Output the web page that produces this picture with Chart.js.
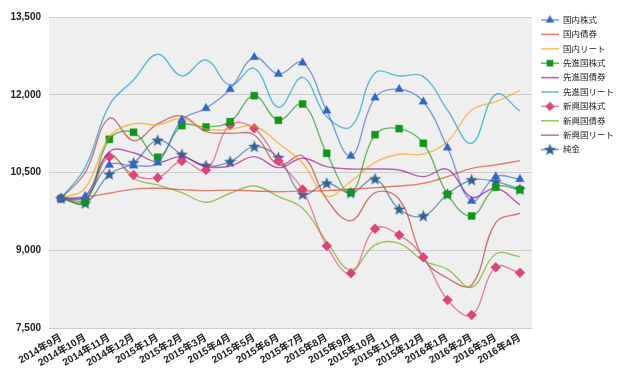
<!DOCTYPE html>
<html>
<head>
<meta charset="utf-8">
<script src="https://cdn.jsdelivr.net/npm/chart.js@4"></script>
<style>
html,body{margin:0;padding:0;background:#fff;}
#wrap{width:640px;height:376px;position:relative;}
</style>
</head>
<body>
<div id="wrap"><canvas id="c" width="640" height="376"></canvas></div>
<script>
const labels = ["2014年9月","2014年10月","2014年11月","2014年12月","2015年1月","2015年2月","2015年3月","2015年4月","2015年5月","2015年6月","2015年7月","2015年8月","2015年9月","2015年10月","2015年11月","2015年12月","2016年1月","2016年2月","2016年3月","2016年4月"];
const seriesNames = ["国内株式","国内債券","国内リート","先進国株式","先進国債券","先進国リート","新興国株式","新興国債券","新興国リート","純金"];
const domesticStocks  = [10000,10040,10645,10632,10690,11513,11738,12105,12722,12400,12619,11693,10819,11944,12105,11867,10979,9951,10420,10369];
const domesticBonds   = [10000,10030,10100,10180,10196,10170,10150,10160,10144,10130,10140,10150,10180,10208,10240,10290,10420,10580,10645,10728];
const domesticREIT    = [10000,10200,11190,11440,11420,11540,11340,11333,11397,11064,10680,10047,10330,10697,10851,10857,11096,11706,11867,12078];
const developedStocks = [10000,9937,11141,11276,10794,11404,11378,11481,11982,11507,11822,10870,10118,11230,11346,11064,10080,9661,10215,10169];
const developedBonds  = [10000,10050,10902,10880,10700,10806,10613,10626,10806,10594,10774,10613,10568,10568,10549,10420,10562,10022,10196,9874];
const developedREIT   = [10000,10600,11800,12285,12780,12362,12671,12188,12510,11758,12335,11577,11384,12420,12362,12349,11706,11064,12008,11687];
const emergingStocks  = [10000,9990,10806,10452,10400,10722,10549,11417,11352,10722,10170,9083,8556,9417,9295,8865,8041,7752,8672,8568];
const emergingBonds   = [10000,9960,10838,10388,10260,10112,9926,10099,10240,10035,9811,9166,8620,9102,9134,8800,8633,8286,8928,8877];
const emergingREIT    = [10000,10500,11546,11115,11436,11590,11288,11256,11224,10645,10819,9980,9571,10112,9984,8846,8460,8331,9533,9714];
const gold            = [10000,9906,10466,10685,11120,10845,10632,10709,11000,10786,10080,10292,10105,10375,9790,9661,10080,10356,10323,10176];
const yTicks = [7500, 9000, 10500, 12000, 13500];

const colors = ["#3366cc","#dc3912","#ff9900","#109618","#990099","#0099c6","#dd4477","#66aa00","#b82e2e","#316395"];
const allData = [domesticStocks,domesticBonds,domesticREIT,developedStocks,developedBonds,developedREIT,emergingStocks,emergingBonds,emergingREIT,gold];

function hexA(h,a){const r=parseInt(h.slice(1,3),16),g=parseInt(h.slice(3,5),16),b=parseInt(h.slice(5,7),16);return `rgba(${r},${g},${b},${a})`;}

function makeStar(color){
  const c=document.createElement('canvas');c.width=13;c.height=13;
  const x=c.getContext('2d');
  x.beginPath();
  for(let i=0;i<10;i++){
    const r=i%2===0?6:2.6;
    const a=-Math.PI/2+i*Math.PI/5;
    const px=6.5+r*Math.cos(a), py=6.8+r*Math.sin(a);
    if(i===0)x.moveTo(px,py);else x.lineTo(px,py);
  }
  x.closePath();x.fillStyle=color;x.fill();
  x.strokeStyle=hexA(color,0.3);x.lineWidth=1;x.stroke();
  return c;
}
const starImg = makeStar("#316395");

const pointStyles = ["triangle",false,false,"rect",false,false,"rectRot",false,false,starImg];
const pointRadii  = [5,0,0,5,0,0,5,0,0,6];

const FONT = "'Liberation Sans','Noto Sans CJK JP',sans-serif";

const datasets = seriesNames.map((n,i)=>({
  label:n,
  data:allData[i],
  borderColor:hexA(colors[i],0.62),
  borderWidth:1.4,
  backgroundColor:colors[i],
  pointStyle:pointStyles[i]||'circle',
  pointRadius:pointRadii[i],
  pointHoverRadius:pointRadii[i],
  pointBackgroundColor:colors[i],
  pointBorderColor:hexA(colors[i],0.35),
  pointBorderWidth:1,
  tension:0.4,
  fill:false
}));

const bgPlugin = {
  id:'plotBg',
  beforeDraw(chart){
    const {ctx,chartArea:a}=chart;
    ctx.save();ctx.fillStyle='#efefef';ctx.fillRect(a.left,a.top,a.right-a.left,a.bottom-a.top);ctx.restore();
  }
};

const legendPlugin = {
  id:'sideLegend',
  afterDraw(chart){
    const ctx=chart.ctx;
    ctx.save();
    chart.data.datasets.forEach((ds,i)=>{
      const y=20+i*14.4;
      ctx.strokeStyle=ds.borderColor;ctx.lineWidth=1.6;
      ctx.beginPath();ctx.moveTo(541,y);ctx.lineTo(559,y);ctx.stroke();
      if(ds.pointRadius>0){
        ctx.fillStyle=ds.pointBackgroundColor;ctx.strokeStyle=ds.pointBorderColor;
        Chart.helpers.drawPoint(ctx,{pointStyle:ds.pointStyle,radius:ds.pointRadius*0.85,rotation:0,borderWidth:1},550,y);
      }
      ctx.fillStyle='#222';ctx.font="8.5px "+FONT;ctx.textBaseline='middle';ctx.textAlign='left';
      ctx.fillText(ds.label,563,y+0.5);
    });
    ctx.restore();
  }
};

new Chart(document.getElementById('c'),{
  type:'line',
  data:{labels:labels,datasets:datasets},
  options:{
    responsive:false,
    animation:false,
    devicePixelRatio:1,
    layout:{padding:{top:17,right:108,left:0,bottom:0}},
    plugins:{legend:{display:false},tooltip:{enabled:false}},
    scales:{
      x:{
        offset:true,
        grid:{display:false,drawTicks:false},
        border:{display:false},
        ticks:{autoSkip:false,minRotation:30,maxRotation:30,padding:4,color:'#222',font:{family:FONT,size:10,weight:'bold'}},
        afterFit(s){s.height=48;}
      },
      y:{
        min:7500,max:13500,
        afterBuildTicks(s){s.ticks=yTicks.map(v=>({value:v}));},
        grid:{color:'#cccccc',drawTicks:false,lineWidth:1},
        border:{display:false},
        ticks:{padding:8,color:'#222',font:{family:FONT,size:10,weight:'bold'},callback:v=>v.toLocaleString('en-US')},
        afterFit(s){s.width=49;}
      }
    }
  },
  plugins:[bgPlugin,legendPlugin]
});
</script>
</body>
</html>
